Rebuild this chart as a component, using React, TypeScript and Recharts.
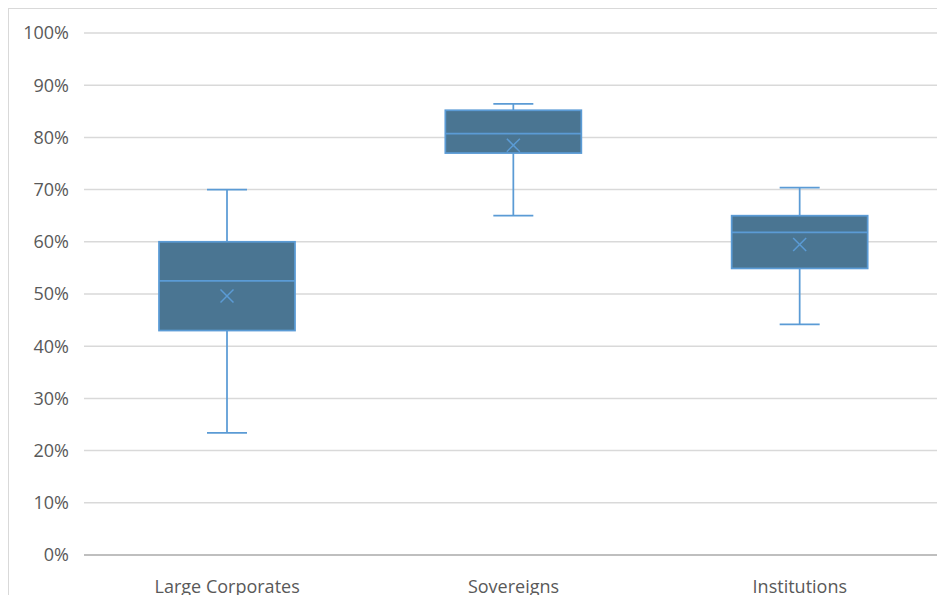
import React from "react";
import { ComposedChart, Bar, XAxis, YAxis, CartesianGrid } from "recharts";

const categories = ["Large Corporates", "Sovereigns", "Institutions"];
const minValues = [23.4, 65.0, 44.2];
const q1Values = [43.0, 77.0, 54.9];
const medianValues = [52.5, 80.7, 61.8];
const q3Values = [60.0, 85.2, 65.0];
const maxValues = [70.0, 86.4, 70.4];
const meanValues = [49.6, 78.5, 59.5];
const yTicks = [0, 10, 20, 30, 40, 50, 60, 70, 80, 90, 100];

const data = categories.map((name, i) => ({
  name,
  range: [minValues[i], maxValues[i]],
  min: minValues[i],
  q1: q1Values[i],
  median: medianValues[i],
  q3: q3Values[i],
  max: maxValues[i],
  mean: meanValues[i],
}));

const BOX_FILL = "#4A7592";
const LINE = "#5B9BD5";
const FONT = "'Open Sans', 'Noto Sans', sans-serif";

const BoxShape = (props: any) => {
  const { x, y, width, height, payload } = props;
  if (!payload) return null;
  const top = Math.min(y, y + height);
  const bottom = Math.max(y, y + height);
  const { min, max, q1, median, q3, mean } = payload;
  const pv = (v: number) => bottom - ((bottom - top) * (v - min)) / (max - min);
  const cx = x + width / 2;
  const capHalf = 20;
  const m = 6.5;
  const yMean = pv(mean);
  const sw = 1.75;
  return (
    <g>
      <line x1={cx} x2={cx} y1={pv(max)} y2={pv(q3)} stroke={LINE} strokeWidth={sw} />
      <line x1={cx} x2={cx} y1={pv(q1)} y2={pv(min)} stroke={LINE} strokeWidth={sw} />
      <line x1={cx - capHalf} x2={cx + capHalf} y1={pv(max)} y2={pv(max)} stroke={LINE} strokeWidth={sw} />
      <line x1={cx - capHalf} x2={cx + capHalf} y1={pv(min)} y2={pv(min)} stroke={LINE} strokeWidth={sw} />
      <rect x={x} y={pv(q3)} width={width} height={pv(q1) - pv(q3)} fill={BOX_FILL} stroke={LINE} strokeWidth={sw} />
      <line x1={x} x2={x + width} y1={pv(median)} y2={pv(median)} stroke={LINE} strokeWidth={sw} />
      <line x1={cx - m} x2={cx + m} y1={yMean - m} y2={yMean + m} stroke={LINE} strokeWidth={1.5} />
      <line x1={cx - m} x2={cx + m} y1={yMean + m} y2={yMean - m} stroke={LINE} strokeWidth={1.5} />
    </g>
  );
};

export default function App() {
  return (
    <div
      style={{
        width: 937,
        height: 595,
        marginBottom: -8,
        boxSizing: "border-box",
        borderTop: "1px solid #D9D9D9",
        borderLeft: "1px solid #D9D9D9",
        background: "#fff",
      }}
    >
      <ComposedChart
        width={936}
        height={594}
        data={data}
        margin={{ top: 24, right: 2, bottom: 8, left: 0 }}
      >
        <CartesianGrid vertical={false} stroke="#D9D9D9" strokeWidth={1.5} />
        <XAxis
          dataKey="name"
          height={40}
          tickLine={false}
          tickSize={0}
          tickMargin={25}
          axisLine={{ stroke: "#BFBFBF", strokeWidth: 2 }}
          tick={{ fill: "#595959", fontSize: 18, fontFamily: FONT }}
        />
        <YAxis
          domain={[0, 100]}
          ticks={yTicks}
          width={75}
          axisLine={false}
          tickLine={false}
          tickSize={0}
          tickMargin={15}
          tickFormatter={(v: number) => `${v}%`}
          tick={{ fill: "#595959", fontSize: 18, fontFamily: FONT }}
        />
        <Bar dataKey="range" barSize={136} shape={<BoxShape />} isAnimationActive={false} />
      </ComposedChart>
    </div>
  );
}
